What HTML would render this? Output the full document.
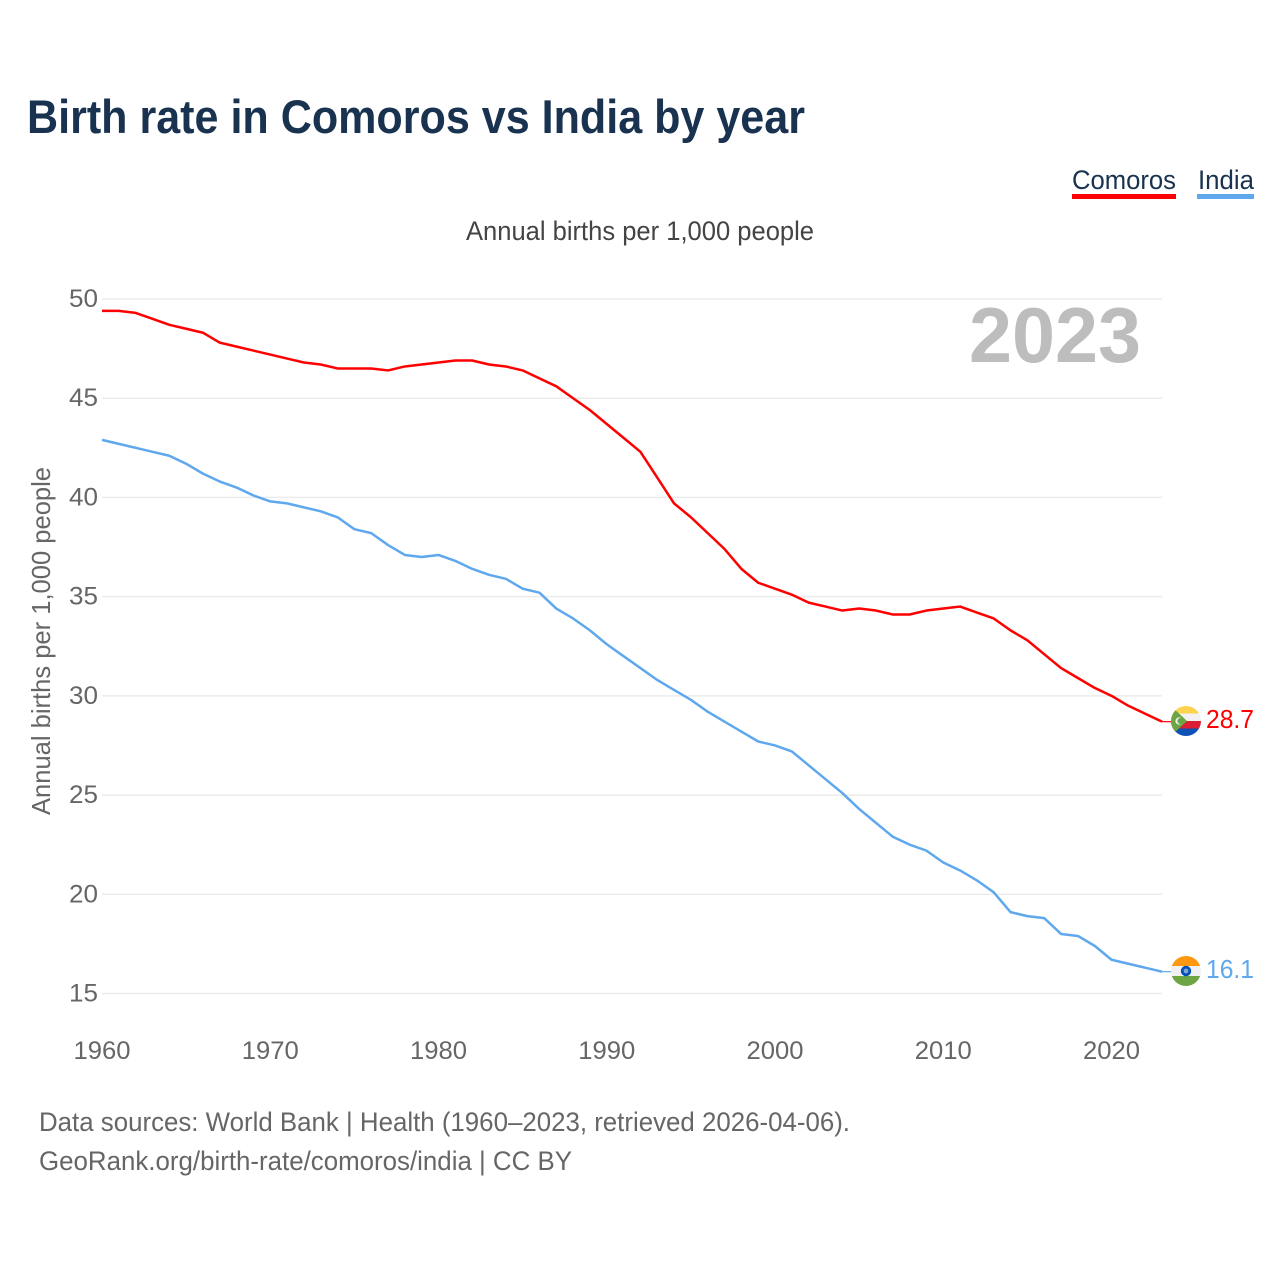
<!DOCTYPE html>
<html lang="en">
<head>
<meta charset="utf-8">
<title>Birth rate in Comoros vs India by year</title>
<style>
html,body{margin:0;padding:0;background:#fff;width:1280px;height:1280px;overflow:hidden}
svg{display:block;font-family:"Liberation Sans",sans-serif}
</style>
</head>
<body>
<svg id="chart" xmlns="http://www.w3.org/2000/svg" width="1280" height="1280" viewBox="0 0 1280 1280">
  <defs>
    <clipPath id="flag-clip-comoros"><circle cx="1186" cy="721" r="15"/></clipPath>
    <clipPath id="flag-clip-india"><circle cx="1186" cy="971" r="15"/></clipPath>
  </defs>
  <text x="27" y="133" font-size="47" font-weight="700" fill="#18324f" textLength="778" lengthAdjust="spacingAndGlyphs">Birth rate in Comoros vs India by year</text>

  <g>
    <g>
      <text x="1072" y="189" font-size="27" fill="#18324f" textLength="104" lengthAdjust="spacingAndGlyphs">Comoros</text>
      <rect x="1072" y="194" width="104" height="5" fill="#ff0000"/>
    </g>
    <g>
      <text x="1198" y="189" font-size="27" fill="#18324f" textLength="56" lengthAdjust="spacingAndGlyphs">India</text>
      <rect x="1197" y="194" width="57" height="5" fill="#5fa8ee"/>
    </g>
  </g>

  <text x="466" y="240" font-size="27" fill="#444444" textLength="348" lengthAdjust="spacingAndGlyphs">Annual births per 1,000 people</text>
  <text x="0" y="0" transform="translate(50,815) rotate(-90)" font-size="26" fill="#666666" textLength="348" lengthAdjust="spacingAndGlyphs">Annual births per 1,000 people</text>

  <g id="grid"></g>
  <g id="y-ticks"></g>
  <g id="x-ticks"></g>

  <text x="969" y="362" font-size="78" font-weight="700" fill="#bdbdbd" textLength="172" lengthAdjust="spacingAndGlyphs">2023</text>

  <g id="series"></g>

  <g clip-path="url(#flag-clip-comoros)">
    <rect x="1171" y="706" width="30" height="8" fill="#ffd34f"/>
    <rect x="1171" y="713.5" width="30" height="7.5" fill="#f2f2f2"/>
    <rect x="1171" y="721" width="30" height="7.5" fill="#dc1e35"/>
    <rect x="1171" y="728.5" width="30" height="8" fill="#0f51b5"/>
    <polygon points="1171,706 1187,721 1171,736" fill="#6da544"/>
    <circle cx="1179" cy="721" r="3.6" fill="#f2f2f2"/>
    <circle cx="1180.4" cy="721" r="3" fill="#6da544"/>
  </g>
  <g clip-path="url(#flag-clip-india)">
    <rect x="1171" y="956" width="30" height="10" fill="#ff9811"/>
    <rect x="1171" y="966" width="30" height="10" fill="#f0f0f0"/>
    <rect x="1171" y="976" width="30" height="10" fill="#6da544"/>
    <circle cx="1186" cy="971" r="5.2" fill="#0052b4"/>
    <circle cx="1186" cy="971" r="2.4" fill="#7fa6d8"/>
  </g>

  <g id="end-labels"></g>

  <text x="39" y="1131" font-size="27" fill="#666666" textLength="811" lengthAdjust="spacingAndGlyphs">Data sources: World Bank | Health (1960–2023, retrieved 2026-04-06).</text>
  <text x="39" y="1170" font-size="27" fill="#666666" textLength="533" lengthAdjust="spacingAndGlyphs">GeoRank.org/birth-rate/comoros/india | CC BY</text>
</svg>
<script>
const years = [1960,1961,1962,1963,1964,1965,1966,1967,1968,1969,1970,1971,1972,1973,1974,1975,1976,1977,1978,1979,1980,1981,1982,1983,1984,1985,1986,1987,1988,1989,1990,1991,1992,1993,1994,1995,1996,1997,1998,1999,2000,2001,2002,2003,2004,2005,2006,2007,2008,2009,2010,2011,2012,2013,2014,2015,2016,2017,2018,2019,2020,2021,2022,2023];
const comoros = [49.4,49.4,49.3,49.0,48.7,48.5,48.3,47.8,47.6,47.4,47.2,47.0,46.8,46.7,46.5,46.5,46.5,46.4,46.6,46.7,46.8,46.9,46.9,46.7,46.6,46.4,46.0,45.6,45.0,44.4,43.7,43.0,42.3,41.0,39.7,39.0,38.2,37.4,36.4,35.7,35.4,35.1,34.7,34.5,34.3,34.4,34.3,34.1,34.1,34.3,34.4,34.5,34.2,33.9,33.3,32.8,32.1,31.4,30.9,30.4,30.0,29.5,29.1,28.7];
const india = [42.9,42.7,42.5,42.3,42.1,41.7,41.2,40.8,40.5,40.1,39.8,39.7,39.5,39.3,39.0,38.4,38.2,37.6,37.1,37.0,37.1,36.8,36.4,36.1,35.9,35.4,35.2,34.4,33.9,33.3,32.6,32.0,31.4,30.8,30.3,29.8,29.2,28.7,28.2,27.7,27.5,27.2,26.5,25.8,25.1,24.3,23.6,22.9,22.5,22.2,21.6,21.2,20.7,20.1,19.1,18.9,18.8,18.0,17.9,17.4,16.7,16.5,16.3,16.1];
const yTicks = [15,20,25,30,35,40,45,50];
const xTicks = [1960,1970,1980,1990,2000,2010,2020];

const NS = 'http://www.w3.org/2000/svg';
function xScale(year) {
  return 102 + (year - 1960) * (1060 / 63);
}
function yScale(value) {
  return 299 + (50 - value) * (694.5 / 35);
}
function svgEl(tag) {
  return document.createElementNS(NS, tag);
}

const grid = document.getElementById('grid');
const yGroup = document.getElementById('y-ticks');
const xGroup = document.getElementById('x-ticks');
const seriesGroup = document.getElementById('series');
const endGroup = document.getElementById('end-labels');

yTicks.forEach(function (t) {
  const line = svgEl('line');
  
  
  line.setAttribute('x1', xScale(1960));
  line.setAttribute('x2', xScale(2023));
  line.setAttribute('y1', yScale(t));
  line.setAttribute('y2', yScale(t));
  line.setAttribute('stroke', '#ececec');
  line.setAttribute('stroke-width', '1.5');
  grid.appendChild(line);

  const label = svgEl('text');
  
  
  label.setAttribute('x', 69);
  label.setAttribute('y', yScale(t) + 8);
  label.setAttribute('font-size', '25');
  label.setAttribute('fill', '#666666');
  label.setAttribute('textLength', '29');
  label.setAttribute('lengthAdjust', 'spacingAndGlyphs');
  label.textContent = t;
  yGroup.appendChild(label);
});

xTicks.forEach(function (t) {
  const label = svgEl('text');
  
  
  label.setAttribute('x', xScale(t) - 28.5);
  label.setAttribute('y', 1059);
  label.setAttribute('font-size', '25');
  label.setAttribute('fill', '#666666');
  label.setAttribute('textLength', '57');
  label.setAttribute('lengthAdjust', 'spacingAndGlyphs');
  label.textContent = t;
  xGroup.appendChild(label);
});

function pathFor(values) {
  return values.map(function (v, i) {
    return (i ? 'L' : 'M') + xScale(years[i]).toFixed(2) + ' ' + yScale(v).toFixed(2);
  }).join(' ');
}

const comorosLine = svgEl('path');


comorosLine.setAttribute('d', pathFor(comoros));
comorosLine.setAttribute('fill', 'none');
comorosLine.setAttribute('stroke', '#ff0000');
comorosLine.setAttribute('stroke-width', '2.5');
comorosLine.setAttribute('stroke-linejoin', 'round');
seriesGroup.appendChild(comorosLine);

const indiaLine = svgEl('path');


indiaLine.setAttribute('d', pathFor(india));
indiaLine.setAttribute('fill', 'none');
indiaLine.setAttribute('stroke', '#5fa8ee');
indiaLine.setAttribute('stroke-width', '2.5');
indiaLine.setAttribute('stroke-linejoin', 'round');
seriesGroup.appendChild(indiaLine);

const comorosLast = comoros[comoros.length - 1];
const indiaLast = india[india.length - 1];
const lastYear = years[years.length - 1];

const comorosConnector = svgEl('line');


comorosConnector.setAttribute('x1', xScale(lastYear));
comorosConnector.setAttribute('x2', xScale(lastYear) + 10);
comorosConnector.setAttribute('y1', yScale(comorosLast));
comorosConnector.setAttribute('y2', yScale(comorosLast));
comorosConnector.setAttribute('stroke', '#ff0000');
comorosConnector.setAttribute('stroke-width', '1.2');
seriesGroup.appendChild(comorosConnector);

const indiaConnector = svgEl('line');


indiaConnector.setAttribute('x1', xScale(lastYear));
indiaConnector.setAttribute('x2', xScale(lastYear) + 10);
indiaConnector.setAttribute('y1', yScale(indiaLast));
indiaConnector.setAttribute('y2', yScale(indiaLast));
indiaConnector.setAttribute('stroke', '#5fa8ee');
indiaConnector.setAttribute('stroke-width', '1.2');
seriesGroup.appendChild(indiaConnector);

const comorosLabel = svgEl('text');


comorosLabel.setAttribute('x', 1206);
comorosLabel.setAttribute('y', yScale(comorosLast) + 6.5);
comorosLabel.setAttribute('font-size', '26');
comorosLabel.setAttribute('fill', '#ff0000');
comorosLabel.setAttribute('textLength', '48');
comorosLabel.setAttribute('lengthAdjust', 'spacingAndGlyphs');
comorosLabel.textContent = comorosLast.toFixed(1);
endGroup.appendChild(comorosLabel);

const indiaLabel = svgEl('text');


indiaLabel.setAttribute('x', 1206);
indiaLabel.setAttribute('y', yScale(indiaLast) + 6.5);
indiaLabel.setAttribute('font-size', '26');
indiaLabel.setAttribute('fill', '#5fa8ee');
indiaLabel.setAttribute('textLength', '48');
indiaLabel.setAttribute('lengthAdjust', 'spacingAndGlyphs');
indiaLabel.textContent = indiaLast.toFixed(1);
endGroup.appendChild(indiaLabel);
</script>
</body>
</html>
